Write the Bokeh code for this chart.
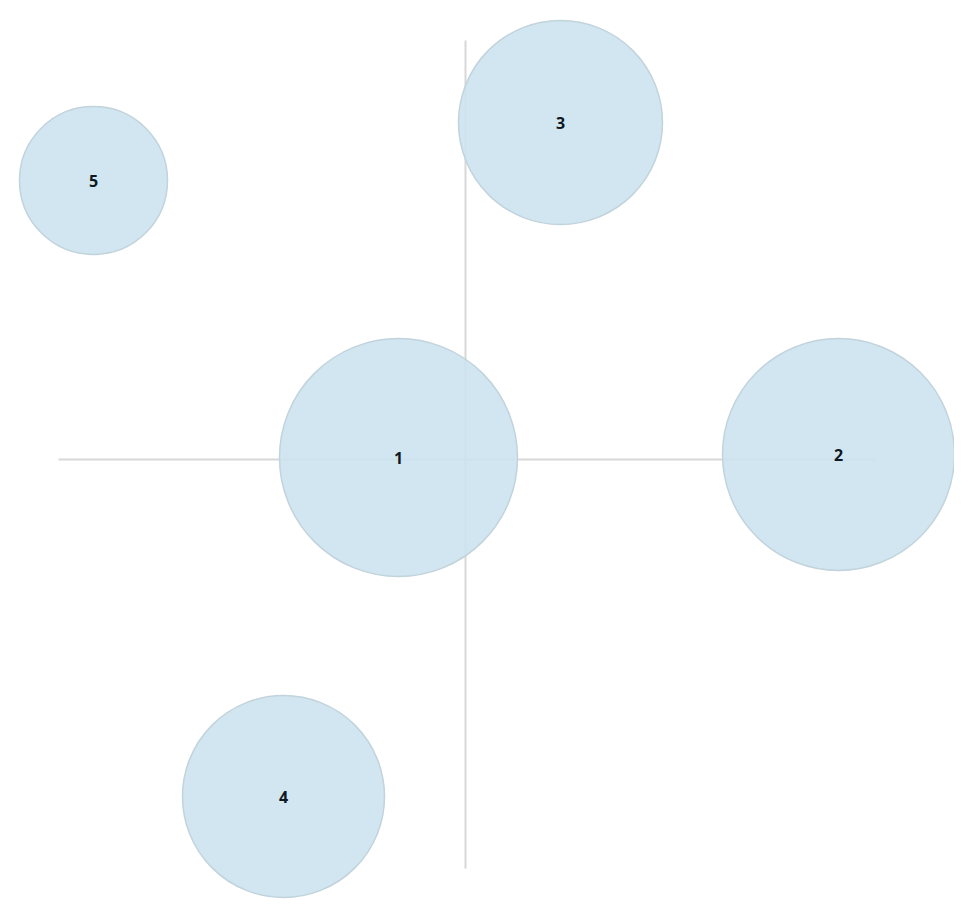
from bokeh.plotting import figure
from bokeh.models import ColumnDataSource
from bokeh.core.properties import value
from bokeh.embed import file_html
from bokeh.resources import INLINE

labels = ["1", "2", "3", "4", "5"]
xs = [-67, 373, 95, -182, -372]
ys = [2, 5, 337, -337, 279]
radii = [119, 116, 102, 101, 74]

h_line_x = [-407, 410]
h_line_y = [0, 0]
v_line_x = [0, 0]
v_line_y = [419, -409]

src = ColumnDataSource(dict(x=xs, y=ys, r=radii, label=labels))

p = figure(width=954, height=905, output_backend="svg", toolbar_location=None,
           x_range=(-465, 489), y_range=(-446, 459), min_border=0,
           outline_line_color=None)
p.axis.visible = False
p.grid.visible = False

p.line(h_line_x, h_line_y, line_color="#d8d8d8", line_width=2)
p.line(v_line_x, v_line_y, line_color="#d8d8d8", line_width=2)

p.circle(x="x", y="y", radius="r", source=src, fill_color="#cbe2ee",
         fill_alpha=0.88, line_color="#c2d3dc", line_width=1.5)

p.text(x="x", y="y", text="label", source=src, text_align="center",
       text_baseline="middle", text_font=value("Open Sans"),
       text_font_style="bold", text_font_size="16px", text_color="#0e1822")

open("out.html", "w").write(file_html(p, INLINE))
